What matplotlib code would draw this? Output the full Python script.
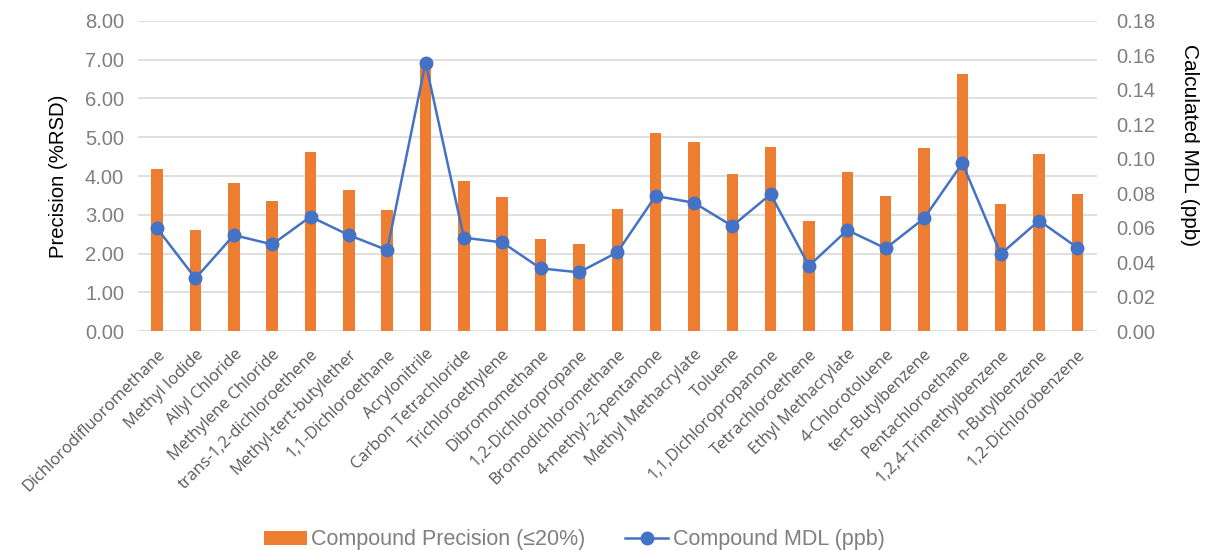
import matplotlib
matplotlib.use("Agg")
import matplotlib.pyplot as plt
import numpy as np
from matplotlib.lines import Line2D
from matplotlib.patches import Patch

compounds = [
    "Dichlorodifluoromethane", "Methyl Iodide", "Allyl Chloride", "Methylene Chloride",
    "trans-1,2-dichloroethene", "Methyl-tert-butylether", "1,1-Dichloroethane",
    "Acrylonitrile", "Carbon Tetrachloride", "Trichloroethylene", "Dibromomethane",
    "1,2-Dichloropropane", "Bromodichloromethane", "4-methyl-2-pentanone",
    "Methyl Methacrylate", "Toluene", "1,1,Dichloropropanone", "Tetrachloroethene",
    "Ethyl Methacrylate", "4-Chlorotoluene", "tert-Butylbenzene", "Pentachloroethane",
    "1,2,4-Trimethylbenzene", "n-Butylbenzene", "1,2-Dichlorobenzene",
]
precision_rsd = [4.17, 2.60, 3.82, 3.35, 4.63, 3.65, 3.12, 6.90, 3.87, 3.46, 2.38, 2.25,
                 3.14, 5.12, 4.88, 4.04, 4.74, 2.84, 4.10, 3.48, 4.73, 6.62, 3.27, 4.57, 3.54]
mdl_ppb = [0.0596, 0.0306, 0.0557, 0.0503, 0.0664, 0.0557, 0.0470, 0.1558, 0.0542, 0.0515,
           0.0364, 0.0341, 0.0457, 0.0784, 0.0745, 0.0610, 0.0794, 0.0379, 0.0586, 0.0480,
           0.0654, 0.0974, 0.0447, 0.0641, 0.0484]
left_ticks = [0, 1, 2, 3, 4, 5, 6, 7, 8]
right_ticks = [0.00, 0.02, 0.04, 0.06, 0.08, 0.10, 0.12, 0.14, 0.16, 0.18]

ORANGE = "#ED7D31"
BLUE = "#4472C4"
TICKGREY = "#7F7F7F"
CATGREY = "#595959"
GRID = "#D9D9D9"

fig = plt.figure(figsize=(12.05, 5.5), dpi=100)
ax = fig.add_axes([0.1145, 0.398, 0.7955, 0.564])
ax2 = ax.twinx()

x = np.arange(len(compounds))
ax.bar(x, precision_rsd, width=0.3, color=ORANGE, zorder=2)
ax2.plot(x, mdl_ppb, color=BLUE, lw=1.8, marker="o", markersize=9, zorder=3)

ax.set_xlim(-0.5, len(compounds) - 0.5)
ax.set_ylim(0, 8)
ax2.set_ylim(0, 0.18)
ax.set_yticks(left_ticks)
ax.set_yticklabels([f"{v:.2f}" for v in left_ticks])
ax2.set_yticks(right_ticks)
ax2.set_yticklabels([f"{v:.2f}" for v in right_ticks])

ax.yaxis.grid(True, color=GRID, lw=1.2, zorder=0)
ax.set_axisbelow(True)
for a in (ax, ax2):
    for s in a.spines.values():
        s.set_visible(False)
    a.tick_params(axis="both", length=0)
ax.tick_params(axis="y", labelsize=14.5, labelcolor=TICKGREY, pad=10, labelfontfamily="Liberation Sans")
ax2.tick_params(axis="y", labelsize=14.5, labelcolor=TICKGREY, pad=14, labelfontfamily="Liberation Sans")

ax.set_xticks(x)
ax.set_xticklabels(compounds, rotation=45, ha="right", rotation_mode="anchor",
                   fontsize=11.9, color=CATGREY, family="Open Sans")
ax.tick_params(axis="x", pad=11)

ax.set_ylabel("Precision (%RSD)", fontsize=14.6, family="Liberation Sans", color="black", labelpad=12)
ax2.set_ylabel("Calculated MDL (ppb)", fontsize=15, family="Liberation Sans", color="black",
               rotation=270, va="center", ha="center")
ax2.yaxis.set_label_coords(1.097, 0.60)

handles = [Patch(facecolor=ORANGE, edgecolor="none"),
           Line2D([0], [0], color=BLUE, lw=1.8, marker="o", markersize=9)]
fig.legend(handles, ["Compound Precision (≤20%)", "Compound MDL (ppb)"],
           loc="lower center", bbox_to_anchor=(574 / 1205, -0.036), ncol=2, frameon=False,
           prop={"family": ["Liberation Sans", "DejaVu Sans"], "size": 15.5},
           labelcolor=TICKGREY, handlelength=2.0, handleheight=0.6, columnspacing=1.86,
           handletextpad=0.2)

fig.savefig("out.png", dpi=100)
